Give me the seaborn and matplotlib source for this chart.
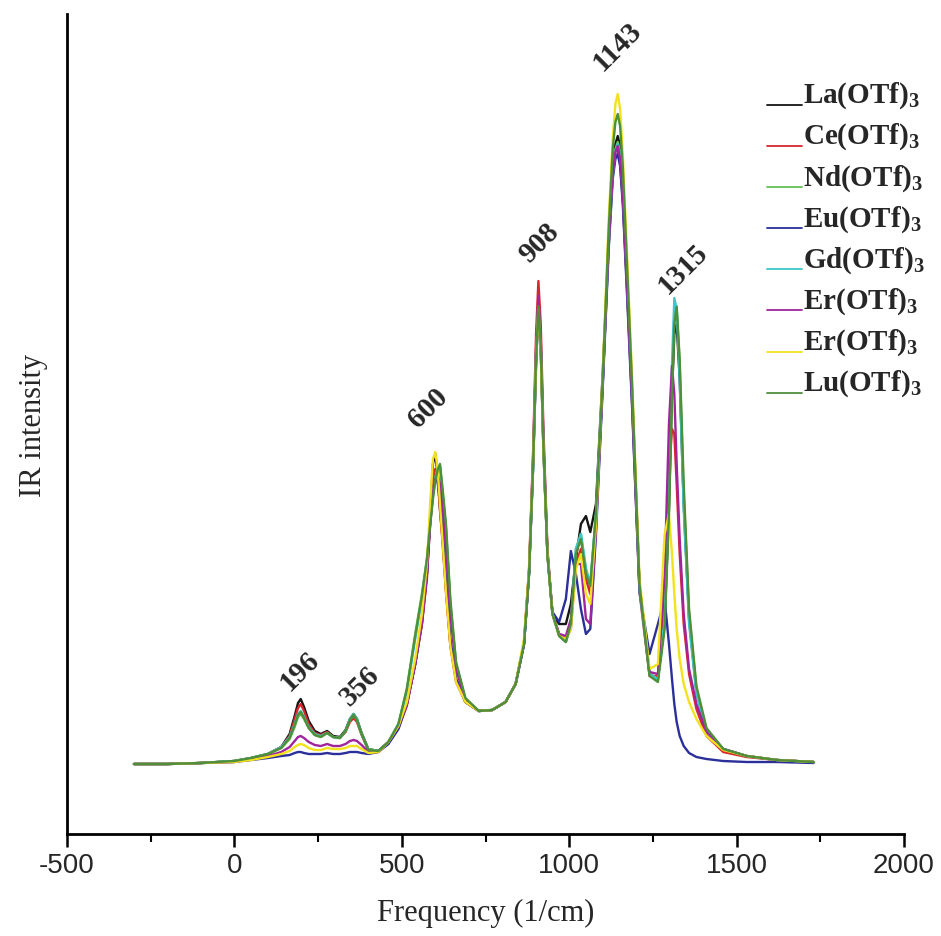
import numpy as np
import pandas as pd
import matplotlib
matplotlib.use("Agg")
import matplotlib.pyplot as plt
import seaborn as sns
from matplotlib.legend_handler import HandlerLine2D
from matplotlib.ticker import MultipleLocator

# Frequency grid (1/cm) shared by every spectrum
freq = [-300, -200, -100, 0, 50, 100, 140, 165, 180, 190,
        198, 208, 222, 240, 258, 277, 295, 315, 332, 345,
        356, 366, 380, 400, 430, 460, 490, 515, 540, 560,
        575, 585, 593, 600, 607, 614, 622, 632, 645, 662,
        690, 730, 770, 810, 840, 865, 880, 892, 901, 908,
        915, 923, 935, 950, 970, 990, 1005, 1020, 1035, 1050,
        1063, 1080, 1100, 1118, 1130, 1138, 1145, 1152, 1160, 1172,
        1188, 1210, 1240, 1265, 1285, 1298, 1307, 1314, 1321, 1330,
        1342, 1358, 1380, 1410, 1460, 1530, 1620, 1730]

# IR intensity (arbitrary units) for each triflate salt
la = [0, 0, 1, 3, 6, 10, 17, 30, 48, 61,
      65, 57, 43, 33, 30, 33, 28, 27, 34, 45,
      50, 45, 31, 15, 13, 22, 38, 60, 100, 140,
      190, 250, 300, 310, 290, 255, 225, 175, 120, 85,
      62, 53, 54, 62, 80, 120, 190, 295, 400, 455,
      415, 315, 210, 150, 140, 140, 160, 205, 240, 248,
      232, 260, 390, 525, 595, 620, 628, 618, 580, 495,
      372, 178, 90, 85, 140, 255, 370, 430, 440, 385,
      260, 145, 72, 34, 15, 8, 4, 2]
ce = [0, 0, 1, 3, 6, 10, 17, 28, 45, 56,
      60, 53, 40, 31, 29, 32, 27, 26, 32, 42,
      46, 42, 29, 14, 13, 22, 36, 58, 100, 140,
      185, 245, 285, 295, 285, 255, 220, 172, 118, 82,
      62, 53, 54, 62, 80, 122, 195, 310, 430, 483,
      440, 335, 215, 150, 130, 125, 135, 200, 215, 185,
      170, 245, 380, 525, 592, 612, 615, 600, 565, 480,
      360, 172, 88, 88, 165, 290, 335, 330, 280, 210,
      140, 90, 55, 28, 12, 7, 4, 2]
nd = [0, 0, 1, 3, 6, 10, 16, 25, 37, 47,
      50, 45, 36, 29, 27, 31, 27, 26, 33, 44,
      49, 44, 30, 15, 13, 22, 40, 75, 130, 170,
      205, 242, 268, 285, 296, 298, 270, 235, 160, 100,
      65, 53, 54, 62, 80, 120, 190, 300, 410, 462,
      420, 320, 210, 150, 128, 122, 140, 215, 230, 195,
      180, 250, 380, 520, 590, 615, 622, 612, 575, 490,
      370, 175, 90, 85, 140, 260, 380, 445, 458, 400,
      270, 150, 75, 35, 15, 8, 4, 2]
eu = [0, 0, 1, 2, 4, 6, 8, 9, 11, 12,
      12, 11, 10, 10, 10, 11, 10, 10, 11, 12,
      12, 12, 11, 10, 12, 20, 35, 60, 100, 145,
      190, 245, 275, 285, 282, 265, 235, 185, 125, 85,
      62, 53, 54, 62, 80, 120, 190, 295, 400, 455,
      415, 315, 210, 152, 142, 165, 213, 190, 155, 130,
      135, 230, 375, 515, 585, 605, 610, 598, 560, 475,
      355, 172, 110, 140, 165, 120, 85, 60, 42, 28,
      18, 11, 7, 5, 3, 2, 2, 1]
gd = [0, 0, 1, 3, 6, 10, 17, 27, 40, 50,
      53, 47, 37, 30, 28, 31, 27, 26, 33, 45,
      50, 45, 30, 14, 13, 22, 40, 73, 125, 165,
      203, 242, 268, 286, 296, 298, 270, 235, 160, 100,
      65, 53, 54, 62, 80, 120, 190, 300, 410, 460,
      420, 320, 210, 150, 128, 122, 140, 215, 230, 195,
      180, 250, 380, 520, 590, 613, 620, 610, 573, 488,
      368, 175, 90, 85, 145, 275, 400, 466, 455, 385,
      255, 140, 70, 33, 15, 8, 4, 2]
er_a = [0, 0, 1, 2, 5, 8, 12, 17, 23, 27,
        28, 26, 22, 19, 18, 20, 18, 18, 20, 23,
        24, 23, 19, 12, 12, 22, 38, 60, 100, 140,
        190, 240, 272, 285, 290, 280, 255, 215, 150, 95,
        63, 53, 54, 62, 80, 120, 192, 305, 415, 468,
        425, 325, 212, 150, 130, 128, 145, 200, 200, 145,
        140, 235, 380, 520, 590, 612, 618, 606, 570, 485,
        365, 178, 92, 90, 190, 340, 398, 370, 300, 225,
        150, 95, 60, 32, 15, 8, 4, 2]
er_b = [0, 0, 1, 2, 4, 7, 10, 13, 17, 19,
        20, 19, 16, 14, 14, 16, 15, 15, 16, 18,
        18, 18, 15, 11, 12, 22, 38, 62, 105, 150,
        200, 262, 305, 312, 295, 260, 222, 172, 118, 82,
        62, 53, 54, 62, 80, 125, 195, 300, 405, 455,
        412, 315, 210, 150, 128, 125, 135, 195, 210, 170,
        160, 240, 390, 545, 625, 660, 670, 655, 610, 515,
        385, 185, 95, 100, 230, 250, 210, 170, 135, 105,
        80, 62, 45, 28, 14, 8, 4, 2]
lu = [0, 0, 1, 3, 6, 10, 16, 26, 39, 49,
      52, 46, 36, 29, 27, 31, 27, 26, 33, 44,
      49, 44, 30, 14, 13, 22, 40, 75, 128, 168,
      205, 240, 265, 283, 294, 300, 275, 240, 165, 102,
      66, 53, 54, 62, 80, 120, 190, 298, 405, 458,
      418, 318, 208, 150, 128, 122, 140, 210, 225, 190,
      178, 250, 385, 535, 615, 642, 650, 638, 598, 505,
      378, 180, 88, 82, 135, 250, 370, 440, 457, 405,
      280, 155, 78, 36, 15, 8, 4, 2]

labels = ["La(OTf)$_3$", "Ce(OTf)$_3$", "Nd(OTf)$_3$", "Eu(OTf)$_3$",
          "Gd(OTf)$_3$", "Er(OTf)$_3$", "Er(OTf)$_3$", "Lu(OTf)$_3$"]
spectra = [la, ce, nd, eu, gd, er_a, er_b, lu]
colors = ["#151515", "#d8262e", "#62c150", "#2a2f9a",
          "#3ec6c9", "#a0259c", "#f2e21c", "#4f8f3a"]

# Peak assignments and where their labels sit (frequency, intensity)
peak_text = ["196", "356", "600", "908", "1143", "1315"]
peak_x = [194, 376, 580, 911, 1144, 1341]
peak_y = [94, 79, 357, 522, 718, 496]

sns.set_theme(style="white")
plt.rcParams["font.family"] = ["Liberation Serif", "DejaVu Serif"]
plt.rcParams["mathtext.fontset"] = "custom"
plt.rcParams["mathtext.rm"] = "Liberation Serif:bold"
plt.rcParams["mathtext.bf"] = "Liberation Serif:bold"
plt.rcParams["axes.unicode_minus"] = False

W, H = 941, 937
fig = plt.figure(figsize=(W / 100, H / 100), dpi=100)
ax = fig.add_axes([67 / W, 1 - 835 / H, (904 - 67) / W, (835 - 15) / H])

for vals, lab, col in zip(spectra, labels, colors):
    df = pd.DataFrame({"freq": freq, "intensity": vals})
    sns.lineplot(data=df, x="freq", y="intensity", color=col, lw=1.7,
                 ax=ax, label=lab, legend=False)

for t, px, py in zip(peak_text, peak_x, peak_y):
    ax.text(px, py, t, rotation=45, ha="center", va="center",
            fontsize=21, fontweight="bold", family=["Liberation Serif"])

ax.set_xlim(-500, 2000)
ax.set_ylim(-70, 750)
ax.xaxis.set_major_locator(MultipleLocator(500))
ax.xaxis.set_minor_locator(MultipleLocator(250))
ax.tick_params(axis="x", which="major", direction="out", length=9, width=1.8,
               color="black", labelsize=20, pad=4, bottom=True)
ax.tick_params(axis="x", which="minor", direction="out", length=6, width=1.5,
               color="black", bottom=True)
ax.set_yticks([])
for lbl in ax.get_xticklabels():
    lbl.set_family(["Liberation Sans", "DejaVu Sans"])
for side in ("top", "right"):
    ax.spines[side].set_visible(False)
for side in ("left", "bottom"):
    ax.spines[side].set_color("black")
    ax.spines[side].set_linewidth(2.0)

ax.set_xlabel("Frequency (1/cm)", fontsize=22, labelpad=14)
ax.set_ylabel("IR intensity", fontsize=22, labelpad=14)


def low_handle(legline, orig):
    legline.update_from(orig)
    legline.set_ydata(np.full_like(np.asarray(legline.get_xdata(), float), -2.0))


handles = ax.get_lines()[: len(labels)]
leg = ax.legend(handles, labels, loc="upper left",
                bbox_to_anchor=(752 / W, 1 - 66 / H), bbox_transform=fig.transFigure,
                frameon=False, fontsize=21, handlelength=1.2, handletextpad=0.05,
                labelspacing=0.36, borderpad=0.0,
                handler_map={matplotlib.lines.Line2D: HandlerLine2D(update_func=low_handle)})
for txt in leg.get_texts():
    txt.set_fontweight("bold")
for lh in leg.get_lines():
    lh.set_linewidth(1.3)

fig.savefig("out.png", dpi=100, facecolor="white")
